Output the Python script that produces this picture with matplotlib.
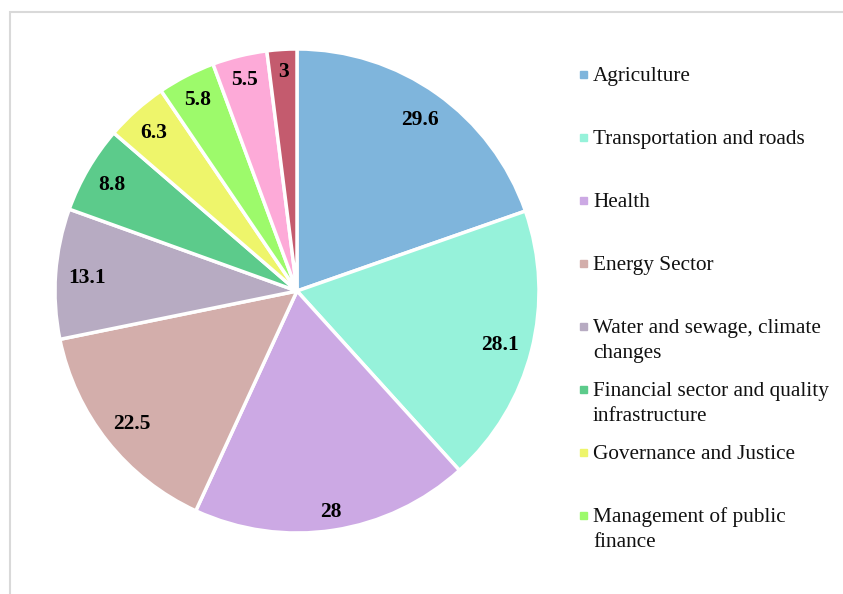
import matplotlib.pyplot as plt
from matplotlib.patches import Rectangle
import numpy as np

plt.rcParams["font.family"] = ["Liberation Serif", "DejaVu Serif"]

sectors = ["Agriculture", "Transportation and roads", "Health", "Energy Sector",
           "Water and sewage, climate\nchanges", "Financial sector and quality\ninfrastructure",
           "Governance and Justice", "Management of public\nfinance", "Other 1", "Other 2"]
values = [29.6, 28.1, 28, 22.5, 13.1, 8.8, 6.3, 5.8, 5.5, 3]
value_labels = ["29.6", "28.1", "28", "22.5", "13.1", "8.8", "6.3", "5.8", "5.5", "3"]
colors = ["#7fb5dc", "#96f2da", "#cca9e4", "#d3aeab", "#b7abc2",
          "#5ccb8b", "#eef56b", "#9dfa6b", "#fdaad8", "#c45b6e"]
n_legend = 8

W, H = 843, 594
fig = plt.figure(figsize=(W / 100, H / 100), dpi=100)

# light grey chart frame (cut off at right and bottom)
fig.patches.append(Rectangle((10 / W, -0.1), 1.2, (H - 12) / H + 0.1,
                             transform=fig.transFigure, fill=False,
                             edgecolor="#d9d9d9", linewidth=1.5))

cx, cy, r = 297, 291, 242
ax = fig.add_axes([(cx - r) / W, (H - cy - r) / H, 2 * r / W, 2 * r / H])
wedges, _ = ax.pie(values, colors=colors, startangle=90, counterclock=False,
                   wedgeprops=dict(edgecolor="white", linewidth=2.5))
ax.set_xlim(-1, 1)
ax.set_ylim(-1, 1)

# "inside end" labels: push each label out until its box nearly touches the rim
renderer = fig.canvas.get_renderer()
pad, digit_h = 12, 15
for w, lab in zip(wedges, value_labels):
    ang = np.deg2rad((w.theta1 + w.theta2) / 2)
    t = ax.text(0, 0, lab, ha="center", va="center", fontsize=15.5, fontweight="bold")
    tw = t.get_window_extent(renderer).width
    half = abs(np.cos(ang)) * tw / 2 + abs(np.sin(ang)) * digit_h / 2
    d = (r - pad - half) / r
    t.set_position((d * np.cos(ang), d * np.sin(ang) - 2.5 / r))

# legend, evenly spaced like the original
for i in range(n_legend):
    yc = 74 + i * 63
    fig.patches.append(Rectangle((580 / W, 1 - (yc + 3.5) / H), 7 / W, 7 / H,
                                 transform=fig.transFigure, color=colors[i]))
    for k, line in enumerate(sectors[i].split("\n")):
        fig.text(593 / W, 1 - (yc + 7 + k * 25) / H, line, fontsize=15.3,
                 va="baseline", ha="left", color="#111111")

fig.savefig("out.png", dpi=100)
